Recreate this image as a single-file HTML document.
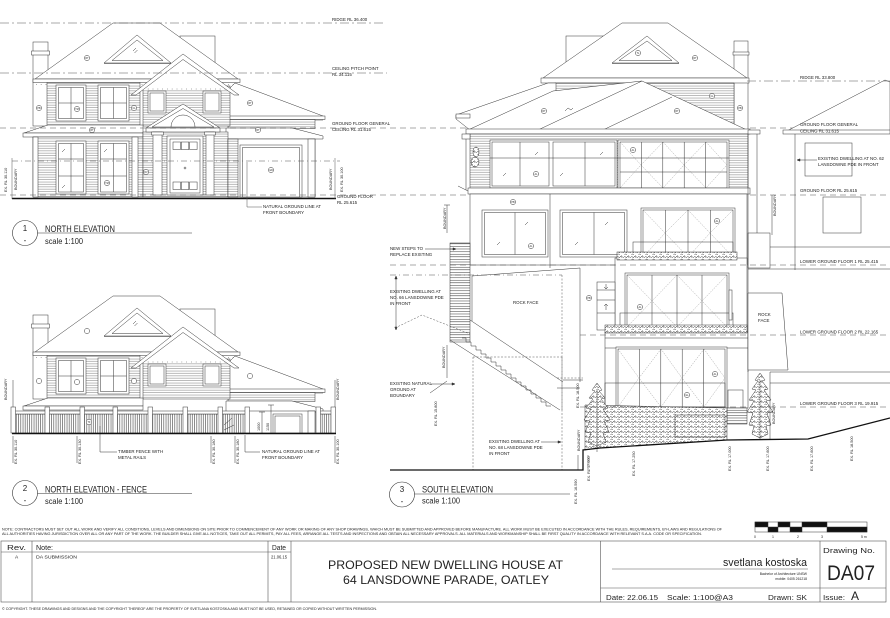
<!DOCTYPE html>
<html><head><meta charset="utf-8">
<style>
html,body{margin:0;padding:0;background:#fff;}
svg{display:block;}
text{font-family:"Liberation Sans",Arial,sans-serif;fill:#222;stroke:none;}
.t{font-size:4.4px;}
.s{font-size:3.8px;}
.g{font-size:2.4px;}
</style></head><body>
<svg width="890" height="618" viewBox="0 0 890 618" xmlns="http://www.w3.org/2000/svg">
<defs>
<pattern id="sid" width="6" height="2.4" patternUnits="userSpaceOnUse"><rect width="6" height="2.4" fill="#fff"/><line x1="0" y1="2" x2="6" y2="2" stroke="#666" stroke-width="0.45"/></pattern>
<pattern id="pk" width="2.2" height="6" patternUnits="userSpaceOnUse"><rect width="2.2" height="6" fill="#fff"/><line x1="1" y1="0" x2="1" y2="6" stroke="#333" stroke-width="0.55"/></pattern>
<pattern id="tr" width="6" height="2.6" patternUnits="userSpaceOnUse"><rect width="6" height="2.6" fill="#fff"/><line x1="0" y1="2" x2="6" y2="2" stroke="#333" stroke-width="0.5"/></pattern>
<pattern id="sh" width="7" height="5" patternUnits="userSpaceOnUse"><rect width="7" height="5" fill="#fff"/><path d="M0.3,3 q1.5,-3 3,0 q1.5,-3 3,0 M1.5,5 q1,-2 2.5,0 M4.5,1.5 q1,-1.5 2,0" fill="none" stroke="#333" stroke-width="0.5"/></pattern>
</defs>

<!-- ================= ELEVATION 1 ================= -->
<g id="hu" stroke="#333" stroke-width="0.5" fill="#fff">
 <rect x="180" y="36" width="35" height="40"/>
 <rect x="33" y="42" width="15" height="84"/>
 <rect x="31.5" y="51" width="18" height="4"/>
 <polygon points="35,79 113,23 160,23 238,79"/>
 <rect x="33" y="79" width="207" height="3.5"/>
 <line x1="36" y1="84.5" x2="238" y2="84.5" stroke-dasharray="0.8,4"/>
 <polygon points="104,63 137,35 171,63"/>
 <polygon points="112,60.5 137,40 163,60.5"/>
 <line x1="104" y1="63.5" x2="171" y2="63.5"/>
 <path d="M133,51 l3,-3 M134.5,53 l3,-3" fill="none"/>
 <polygon points="228,90 235,83 323,116 323,120 228,120"/>
 <rect x="226" y="116" width="99" height="3.5"/>
 <rect x="228" y="119.5" width="87" height="9" fill="url(#sid)"/>
 <rect x="47" y="82.5" width="93" height="43" fill="url(#sid)"/>
 <rect x="56" y="85" width="30" height="36"/>
 <rect x="58.5" y="87.5" width="25" height="31"/>
 <path d="M71,87.5V118.5M58.5,103H83.5" fill="none"/>
 <rect x="98" y="85" width="31" height="36"/>
 <rect x="100.5" y="87.5" width="26" height="31"/>
 <path d="M113.5,87.5V118.5M100.5,103H126.5" fill="none"/>
 <rect x="143" y="86" width="87" height="40" fill="url(#sid)"/>
 <polygon points="141,90 183,60 229,90" stroke="none"/>
 <line x1="143" y1="89" x2="229" y2="89" stroke-dasharray="0.8,4"/>
 <polygon points="131,95 183,54 239,95 234,95 183,59.5 136,95"/>
 <rect x="148" y="91" width="18" height="22"/>
 <rect x="150" y="93" width="14" height="18"/>
 <rect x="203" y="91" width="18" height="22"/>
 <rect x="205" y="93" width="14" height="18"/>
 <polygon points="24,133 48,125 143,125 143,133"/>
 <rect x="23" y="133" width="120" height="4"/>
 <polygon points="226,128 292,128 323,136 323,139 226,139"/>
 <circle cx="87" cy="58" r="2.6"/>
 <circle cx="250" cy="103" r="2.6"/>
 <circle cx="39" cy="108" r="2.6"/>
 <circle cx="77" cy="109" r="2.6"/>
 <circle cx="134" cy="108" r="2.6"/>
</g>
<g stroke="#333" stroke-width="0.5" fill="#fff">
 <circle cx="92" cy="130" r="2.6"/>
 <circle cx="258" cy="130" r="2.6"/>
 <rect x="33" y="137" width="110" height="60" fill="url(#sid)"/>
 <rect x="33" y="137" width="5" height="60"/>
 <rect x="132" y="137" width="6" height="60"/>
 <rect x="56" y="141" width="30" height="53"/>
 <rect x="58.5" y="143.5" width="25" height="48.5"/>
 <path d="M71,143.5V192M58.5,159H83.5M58.5,176H83.5M62,152l3,-3M62,188l3,-3" fill="none"/>
 <rect x="98" y="141" width="31" height="53"/>
 <rect x="100.5" y="143.5" width="26" height="48.5"/>
 <path d="M113.5,143.5V192M100.5,159H126.5M100.5,176H126.5M104,152l3,-3" fill="none"/>
 <rect x="143" y="132" width="85" height="65" fill="url(#sid)"/>
 <polygon points="146,128 183,104 220,128"/>
 <polygon points="152,127 183,108.5 214,127"/>
 <path d="M171,127 A12,12 0 0 1 195,127" fill="none"/>
 <rect x="146" y="128" width="74" height="4"/>
 <rect x="153" y="132" width="9" height="63"/>
 <rect x="151.5" y="132" width="12" height="3"/>
 <rect x="206" y="132" width="8" height="63"/>
 <rect x="204.5" y="132" width="11" height="3"/>
 <rect x="167" y="136" width="36" height="59"/>
 <rect x="170" y="139" width="30" height="54"/>
 <rect x="173" y="142" width="7.5" height="7.5"/><rect x="181.3" y="142" width="7.5" height="7.5"/><rect x="189.6" y="142" width="7.5" height="7.5"/>
 <rect x="173" y="182" width="7.5" height="7.5"/><rect x="181.3" y="182" width="7.5" height="7.5"/><rect x="189.6" y="182" width="7.5" height="7.5"/>
 <circle cx="185" cy="168" r="1"/>
 <circle cx="146" cy="172" r="2.6"/>
 <rect x="228" y="139" width="87" height="58"/>
 <rect x="228" y="139" width="10" height="58" fill="url(#sid)"/>
 <rect x="240" y="145" width="62" height="52"/>
 <rect x="242.5" y="147.5" width="57" height="49.5"/>
 <rect x="308" y="139" width="7" height="58"/>
 <circle cx="271" cy="170" r="2.6"/>
 <circle cx="107" cy="183" r="2.6"/>
</g>
<line x1="12" y1="198.5" x2="336" y2="198.5" stroke="#111" stroke-width="1.4"/>
<g class="g" text-anchor="middle">
 <text x="87" y="59">RT</text><text x="250" y="104">RT</text><text x="92" y="131">RT</text><text x="258" y="131">RT</text>
 <text x="39" y="109">PB</text><text x="77" y="110">TM</text><text x="134" y="109">CL</text><text x="146" y="173">DV</text><text x="271" y="171">GD</text><text x="107" y="184">TM</text>
</g>
<!-- elev 1 level lines -->
<g stroke="#555" stroke-width="0.5" fill="none">
 <line x1="0" y1="23" x2="385" y2="23" stroke-dasharray="9,3,2,3"/>
 <line x1="0" y1="73" x2="387" y2="73" stroke-dasharray="9,3,2,3"/>
 <line x1="0" y1="128" x2="890" y2="128" stroke-dasharray="6,4"/>
 <line x1="12" y1="161" x2="340" y2="161" stroke-dasharray="6,3,1,3"/>
 <line x1="0" y1="195" x2="890" y2="195" stroke-dasharray="6,4"/>
 <line x1="12" y1="158" x2="12" y2="199"/>
 <line x1="335" y1="158" x2="335" y2="199"/>
 <path d="M247,162V207H262"/>
</g>
<g class="t">
 <text x="332" y="21">RIDGE  RL 36.400</text>
 <text x="332" y="70">CEILING PITCH POINT</text>
 <text x="332" y="76">RL 34.115</text>
 <text x="332" y="125">GROUND FLOOR GENERAL</text>
 <text x="332" y="131">CEILING  RL 31.615</text>
 <text x="337" y="198">GROUND FLOOR</text>
 <text x="337" y="204">RL 25.615</text>
 <text x="263" y="208">NATURAL GROUND LINE AT</text>
 <text x="263" y="214">FRONT BOUNDARY</text>
 <text class="s" transform="translate(7,192) rotate(-90)">EX. RL 30.110</text>
 <text class="s" transform="translate(17,190) rotate(-90)">BOUNDARY</text>
 <text class="s" transform="translate(332,190) rotate(-90)">BOUNDARY</text>
 <text class="s" transform="translate(343,192) rotate(-90)">EX. RL 30.100</text>
</g>
<circle cx="25" cy="233" r="12.5" fill="none" stroke="#333" stroke-width="0.6"/>
<line x1="37.5" y1="233" x2="192" y2="233" stroke="#333" stroke-width="0.6"/>
<text x="25" y="231" font-size="8" text-anchor="middle">1</text>
<text x="25" y="243" font-size="8" text-anchor="middle">-</text>
<text x="45" y="232" font-size="9" textLength="70" lengthAdjust="spacingAndGlyphs">NORTH ELEVATION</text>
<text x="45" y="244" font-size="8" textLength="38" lengthAdjust="spacingAndGlyphs">scale 1:100</text>

<!-- ================= ELEVATION 2 ================= -->
<use href="#hu" transform="translate(0,273)"/>
<g stroke="#333" stroke-width="0.5" fill="#fff">
 <rect x="247" y="411" width="68" height="22"/>
 <rect x="273" y="414" width="29" height="19"/>
 <rect x="275" y="416" width="25" height="17"/>
 <rect x="308" y="411" width="7" height="22"/>
 <rect x="13" y="414" width="234" height="19" fill="url(#pk)"/>
 <rect x="13" y="411" width="234" height="3"/>
 <rect x="318" y="414" width="15" height="19" fill="url(#pk)"/>
 <rect x="318" y="411" width="15" height="3"/>
 <rect x="11" y="407" width="4.5" height="26"/>
 <rect x="45" y="407" width="4.5" height="26"/>
 <rect x="80" y="407" width="4.5" height="26"/>
 <rect x="113" y="407" width="4.5" height="26"/>
 <rect x="148" y="407" width="4.5" height="26"/>
 <rect x="183" y="407" width="4.5" height="26"/>
 <rect x="218" y="407" width="4.5" height="26"/>
 <rect x="245" y="407" width="4.5" height="26"/>
 <rect x="316" y="407" width="4.5" height="26"/>
 <rect x="331" y="407" width="4.5" height="26"/>
 <path d="M224,425 l8,-7 M224,430 l10,-5" fill="none"/>
 <circle cx="89" cy="422" r="2.8"/>
 <path d="M262,412V433M259,412h6M271,405V433M268,405h6M100,426V452H117M245,435V452H260" fill="none"/>
 <path d="M13,380V407M335,380V407M13,436V463M77,436V463M211,436V463M235,436V463M335,436V463" fill="none"/>
</g>
<line x1="12" y1="433.5" x2="336" y2="433.5" stroke="#111" stroke-width="1.4"/>
<g class="t">
 <text x="89" y="423" class="g" text-anchor="middle">TF</text>
 <text x="118" y="453">TIMBER FENCE WITH</text>
 <text x="118" y="459">METAL RAILS</text>
 <text x="262" y="453">NATURAL GROUND LINE AT</text>
 <text x="262" y="459">FRONT BOUNDARY</text>
 <text class="s" transform="translate(260,431) rotate(-90)">1000</text>
 <text class="s" transform="translate(269,431) rotate(-90)">1150</text>
 <text class="s" transform="translate(7,400) rotate(-90)">BOUNDARY</text>
 <text class="s" transform="translate(339,400) rotate(-90)">BOUNDARY</text>
 <text class="s" transform="translate(17,464) rotate(-90)">EX. RL 30.110</text>
 <text class="s" transform="translate(81,464) rotate(-90)">EX. RL 30.130</text>
 <text class="s" transform="translate(215,464) rotate(-90)">EX. RL 30.180</text>
 <text class="s" transform="translate(239,464) rotate(-90)">EX. RL 30.180</text>
 <text class="s" transform="translate(339,464) rotate(-90)">EX. RL 30.100</text>
</g>
<circle cx="25" cy="493" r="12.5" fill="none" stroke="#333" stroke-width="0.6"/>
<line x1="37.5" y1="493.5" x2="192" y2="493.5" stroke="#333" stroke-width="0.6"/>
<text x="25" y="491" font-size="8" text-anchor="middle">2</text>
<text x="25" y="503" font-size="8" text-anchor="middle">-</text>
<text x="45" y="492.5" font-size="9" textLength="102" lengthAdjust="spacingAndGlyphs">NORTH ELEVATION - FENCE</text>
<text x="45" y="504" font-size="8" textLength="38" lengthAdjust="spacingAndGlyphs">scale 1:100</text>

<!-- ================= SOUTH ELEVATION ================= -->
<g stroke="#333" stroke-width="0.5" fill="#fff">
 <rect x="566" y="36" width="37" height="45"/>
 <rect x="734" y="41" width="14" height="90"/>
 <rect x="733" y="52" width="16" height="3"/>
 <polygon points="543,78 622,23 668,23 747,78"/>
 <rect x="541" y="78" width="208" height="5"/>
 <polygon points="612,63 647,36 679,63"/>
 <polygon points="619,60.5 647,41 672,60.5"/>
 <line x1="612" y1="63.5" x2="679" y2="63.5"/>
 <circle cx="638" cy="53" r="2.6"/>
 <circle cx="695" cy="58" r="2.6"/>
 <rect x="555" y="83" width="179" height="47" fill="url(#sid)"/>
 <polygon points="456,115 548,83 556,83 556,112 470,130 456,119"/>
 <rect x="456" y="114" width="14" height="4"/>
 <polygon points="468,130 553,91 642,81 747,130"/>
 <line x1="538" y1="130" x2="642" y2="81"/>
 <line x1="603" y1="130" x2="672" y2="97"/>
 <circle cx="544" cy="111" r="2.6"/>
 <circle cx="677" cy="111" r="2.6"/>
 <circle cx="712" cy="96" r="2.6"/>
 <circle cx="740" cy="108" r="2.6"/>
 <path d="M565,111 l3,-3 l3,2 l2,-2" fill="none"/>
 <rect x="466" y="129" width="284" height="5"/>
 <rect x="748" y="130" width="12" height="4"/>
 <rect x="470" y="134" width="278" height="56" fill="url(#sid)"/>
 <rect x="490" y="140" width="127" height="48"/>
 <rect x="492" y="142" width="57" height="44"/>
 <rect x="553" y="142" width="62" height="44"/>
 <line x1="520" y1="142" x2="520" y2="186"/>
 <line x1="585" y1="142" x2="585" y2="186"/>
 <rect x="618" y="140" width="111" height="50"/>
 <rect x="620" y="142" width="107" height="46"/>
 <path d="M641.4,142V188M662.8,142V188M684.2,142V188M705.6,142V188" fill="none"/>
 <line x1="490" y1="158" x2="729" y2="158"/>
 <line x1="620" y1="172" x2="727" y2="172"/>
 <path d="M620,142L641,165L620,188M663,142L641,165L663,188M663,142L684,165L663,188M706,142L684,165L706,188M706,142L727,165L706,188" fill="none" stroke="#777" stroke-width="0.35" stroke-dasharray="1.5,1"/>
 <circle cx="536" cy="174" r="2.6"/>
 <circle cx="633" cy="150" r="2.6"/>
 <path d="M503,176l3,-3M535,155l3,-3M560,176l3,-3M600,155l3,-3" fill="none"/>
 <rect x="462" y="134" width="8" height="5"/>
 <path d="M466,139V190M458,186l12,6" fill="none"/>
 <ellipse cx="476" cy="152" rx="3" ry="5" fill="url(#sh)"/>
 <ellipse cx="475" cy="162" rx="4" ry="5" fill="url(#sh)"/>
 <rect x="468" y="188" width="282" height="6"/>
 <rect x="470" y="194" width="277" height="71"/>
 <line x1="550" y1="194" x2="550" y2="268"/>
 <circle cx="513" cy="202" r="2.6"/>
 <rect x="482" y="210" width="66" height="47"/>
 <rect x="484.5" y="212.5" width="61" height="42"/>
 <line x1="515" y1="212.5" x2="515" y2="254.5"/>
 <rect x="560" y="210" width="67" height="47"/>
 <rect x="562.5" y="212.5" width="62" height="42"/>
 <line x1="594" y1="212.5" x2="594" y2="254.5"/>
 <path d="M497,245l3,-3M525,225l3,-3M575,245l3,-3M605,225l3,-3" fill="none"/>
 <circle cx="531" cy="246" r="2.6"/>
 <rect x="641" y="208" width="94" height="50"/>
 <rect x="643" y="210" width="90" height="47"/>
 <path d="M665.5,210V257M688,210V257M710.5,210V257" fill="none"/>
 <path d="M643,210L665,233L643,257M688,210L665,233L688,257M688,210L710,233L688,257M733,210L710,233L733,257" fill="none" stroke="#777" stroke-width="0.35" stroke-dasharray="1.5,1"/>
 <circle cx="717" cy="221" r="2.6"/>
 <rect x="633" y="242" width="100" height="15" fill="none"/>
 <rect x="615" y="258" width="132" height="92"/>
 <rect x="617" y="252" width="120" height="8" fill="url(#sh)"/>
 <rect x="625" y="273" width="104" height="56"/>
 <rect x="627" y="275" width="100" height="52"/>
 <path d="M652,275V327M677,275V327M702,275V327" fill="none"/>
 <path d="M627,275L652,301L627,327M677,275L652,301L677,327M677,275L702,301L677,327M727,275L702,301L727,327" fill="none" stroke="#777" stroke-width="0.35" stroke-dasharray="1.5,1"/>
 <circle cx="640" cy="307" r="2.6"/>
 <rect x="620" y="313" width="113" height="14" fill="none"/>
 <rect x="729" y="290" width="3" height="30"/>
 <rect x="597" y="282" width="18" height="48"/>
 <path d="M597,290H615M597,300H615M597,313H615M606,284v5M604,287l2,2l2,-2M606,310v-6M604,306l2,-2l2,2" fill="none"/>
 <circle cx="589" cy="298" r="2.6"/>
 <rect x="605" y="332" width="143" height="76"/>
 <rect x="605" y="325" width="142" height="8" fill="url(#sh)"/>
 <line x1="605" y1="338" x2="748" y2="338"/>
 <line x1="605" y1="348" x2="748" y2="348"/>
 <rect x="616" y="347" width="111" height="61"/>
 <rect x="618" y="349" width="107" height="58"/>
 <path d="M639.4,349V407M660.8,349V407M682.2,349V407M703.6,349V407" fill="none"/>
 <path d="M618,349L639,378L618,407M661,349L639,378L661,407M661,349L682,378L661,407M704,349L682,378L704,407M704,349L725,378L704,407" fill="none" stroke="#777" stroke-width="0.35" stroke-dasharray="1.5,1"/>
 <circle cx="715" cy="374" r="2.6"/>
 <circle cx="687" cy="395" r="2.6"/>
 <rect x="605" y="383" width="120" height="24" fill="none"/>
 <rect x="728" y="390" width="15" height="18"/>
 <rect x="727" y="408" width="20" height="16" fill="url(#tr)"/>
 <polygon points="585,405 727,408 727,440 600,448 585,450" fill="url(#sh)"/>
 <rect x="675" y="415" width="50" height="22" fill="url(#sh)"/>
 <polygon points="597,383 602,390 599,391 605,398 601,399 608,408 603,409 610,420 604,421 609,432 603,433 606,442 597,446 588,442 591,433 585,432 590,421 584,420 591,409 586,408 593,399 589,398 595,391 592,390" fill="url(#sh)"/>
 <line x1="597" y1="390" x2="597" y2="452"/>
 <polygon points="760,373 765,380 762,381 768,389 764,390 771,400 766,401 773,412 767,413 771,425 766,426 768,434 760,438 752,434 754,426 749,425 753,413 747,412 754,401 749,400 756,390 752,389 758,381 755,380" fill="url(#sh)"/>
 <line x1="760" y1="380" x2="760" y2="440"/>
 <!-- rock face & right -->
 <line x1="748" y1="134" x2="748" y2="372"/>
 <line x1="757" y1="134" x2="757" y2="233"/>
 <rect x="748" y="233" width="22" height="35" fill="none"/>
 <polygon points="748,293 782,293 788,370 748,370"/>
 <line x1="748" y1="269" x2="890" y2="269"/>
 <line x1="770" y1="372" x2="890" y2="372"/>
 <line x1="770" y1="383" x2="890" y2="383"/>
 <line x1="770" y1="247" x2="890" y2="247"/>
 <line x1="770" y1="372" x2="770" y2="440"/>
 <line x1="772" y1="195" x2="772" y2="235"/>
 <!-- existing dwelling 62 -->
 <polygon points="785,132 885,80 890,82 890,132"/>
 <rect x="783" y="130" width="107" height="4"/>
 <line x1="795" y1="134" x2="795" y2="270"/>
 <rect x="805" y="143" width="47" height="33" fill="none"/>
 <rect x="823" y="197" width="38" height="36" fill="none"/>
 <path d="M797,160H817M797,160l3,-1.2v2.4z" fill="#333"/>
 <!-- left: stairs, rock face, dwellings -->
 <rect x="450" y="243" width="20" height="99" fill="url(#tr)"/>
 <line x1="472" y1="276" x2="580" y2="268"/>
 <line x1="580" y1="268" x2="580" y2="382"/>
 <line x1="472" y1="276" x2="472" y2="321"/>
 <line x1="470" y1="320" x2="563" y2="382"/>
 <line x1="450" y1="340" x2="560" y2="410"/>
 <polyline points="462,338 466,338 466,342 471,342 471,346 476,346 476,350 481,350 481,354 486,354 486,358 491,358 491,362 496,362 496,366 501,366 501,370 506,370 506,374 511,374 511,378 516,378 516,382 521,382 521,386 526,386 526,390 531,390 531,394 536,394 536,398 541,398 541,402 546,402 546,406 551,406" fill="none"/>
 <line x1="563" y1="380" x2="583" y2="380"/>
 <line x1="557" y1="388" x2="580" y2="388"/>
 <path d="M447,205V233M444,205h6M447,345V378M430,393L447,381M431,384H455M455,384l-3,-1.2v2.4z M425,249H456M456,249l-3,-1.2v2.4z M541,442H561M561,442l-3,-1.2v2.4z" fill="#333"/>
 <path d="M396,276V330M396,276l-1.2,3h2.4z M396,330l-1.2,-3h2.4z" fill="#333"/>
 <path d="M578,455V470M588,455V470" fill="none"/>
</g>
<g stroke="#555" stroke-width="0.5" fill="none">
 <line x1="747" y1="81" x2="890" y2="81" stroke-dasharray="9,3,2,3"/>
 <line x1="390" y1="265" x2="890" y2="265" stroke-dasharray="6,4"/>
 <line x1="390" y1="275" x2="562" y2="275" stroke-dasharray="6,3,1,3"/>
 <line x1="562" y1="275" x2="562" y2="410" stroke-dasharray="2,1.5"/>
 <line x1="580" y1="335" x2="890" y2="335" stroke-dasharray="6,4"/>
 <line x1="580" y1="407" x2="890" y2="407" stroke-dasharray="6,4"/>
 <path d="M473,357H562M473,357V470M562,357V470M557,378H583" stroke-dasharray="2,1.5"/>
 <polyline points="395,328 422,315 470,334" stroke-dasharray="2,1.5"/>
</g>
<polyline points="390,470 583,470 583,450 600,448 727,440 808,439 890,418" fill="none" stroke="#111" stroke-width="1.3"/>
<g class="g" text-anchor="middle">
 <text x="638" y="54">TL</text><text x="695" y="59">RT</text><text x="544" y="112">RT</text><text x="677" y="112">RT</text><text x="712" y="97">CL</text><text x="740" y="109">PB</text>
 <text x="536" y="175">AL</text><text x="633" y="151">AL</text><text x="513" y="203">PB</text><text x="531" y="247">AL</text><text x="717" y="222">AL</text>
 <text x="640" y="308">AL</text><text x="589" y="299">PB</text><text x="715" y="375">AL</text><text x="687" y="396">GL</text>
</g>
<g class="t">
 <text x="800" y="79">RIDGE  RL 33.800</text>
 <text x="800" y="126">GROUND FLOOR GENERAL</text>
 <text x="800" y="132.5">CEILING  RL 31.615</text>
 <text x="818" y="160">EXISTING DWELLING AT NO. 62</text>
 <text x="818" y="166">LANSDOWNE PDE IN FRONT</text>
 <text x="800" y="192">GROUND FLOOR  RL 25.615</text>
 <text x="800" y="263">LOWER GROUND FLOOR 1  RL 25.415</text>
 <text x="800" y="333.5">LOWER GROUND FLOOR 2  RL 22.165</text>
 <text x="800" y="405">LOWER GROUND FLOOR 3  RL 19.915</text>
 <text x="758" y="316">ROCK</text>
 <text x="758" y="322">FACE</text>
 <text x="513" y="304">ROCK FACE</text>
 <text x="390" y="250">NEW STEPS TO</text>
 <text x="390" y="256">REPLACE EXISTING</text>
 <text x="390" y="293">EXISTING DWELLING AT</text>
 <text x="390" y="299">NO. 66 LANSDOWNE PDE</text>
 <text x="390" y="305">IN FRONT</text>
 <text x="390" y="385">EXISTING NATURAL</text>
 <text x="390" y="391">GROUND AT</text>
 <text x="390" y="397">BOUNDARY</text>
 <text x="489" y="443">EXISTING DWELLING AT</text>
 <text x="489" y="449">NO. 68 LANSDOWNE PDE</text>
 <text x="489" y="455">IN FRONT</text>
 <text class="s" transform="translate(446,229) rotate(-90)">BOUNDARY</text>
 <text class="s" transform="translate(445,368) rotate(-90)">BOUNDARY</text>
 <text class="s" transform="translate(437,426) rotate(-90)">EX. RL 15.800</text>
 <text class="s" transform="translate(579,408) rotate(-90)">EX. RL 18.500</text>
 <text class="s" transform="translate(580,451) rotate(-90)">BOUNDARY</text>
 <text class="s" transform="translate(577,504) rotate(-90)">EX. RL 16.590</text>
 <text class="s" transform="translate(590,481) rotate(-90)">EX. RL 17.000</text>
 <text class="s" transform="translate(635,476) rotate(-90)">EX. RL 17.250</text>
 <text class="s" transform="translate(731,471) rotate(-90)">EX. RL 17.000</text>
 <text class="s" transform="translate(769,471) rotate(-90)">EX. RL 17.600</text>
 <text class="s" transform="translate(813,471) rotate(-90)">EX. RL 17.600</text>
 <text class="s" transform="translate(853,461) rotate(-90)">EX. RL 18.500</text>
 <text class="s" transform="translate(775,424) rotate(-90)">BOUNDARY</text>
 <text class="s" transform="translate(776,216) rotate(-90)">BOUNDARY</text>
</g>
<circle cx="402" cy="494.5" r="12.5" fill="none" stroke="#333" stroke-width="0.6"/>
<line x1="414.5" y1="494" x2="570" y2="494" stroke="#333" stroke-width="0.6"/>
<text x="402" y="492" font-size="8" text-anchor="middle">3</text>
<text x="402" y="504" font-size="8" text-anchor="middle">-</text>
<text x="422" y="492.5" font-size="9" textLength="71" lengthAdjust="spacingAndGlyphs">SOUTH ELEVATION</text>
<text x="422" y="503.5" font-size="8" textLength="38" lengthAdjust="spacingAndGlyphs">scale 1:100</text>

<!-- ================= TITLE BLOCK ================= -->
<text x="2" y="530.5" font-size="3.6" textLength="720" lengthAdjust="spacingAndGlyphs">NOTE: CONTRACTORS MUST SET OUT ALL WORK AND VERIFY ALL CONDITIONS, LEVELS AND DIMENSIONS ON SITE PRIOR TO COMMENCEMENT OF ANY WORK OR MAKING OF ANY SHOP DRAWINGS, WHICH MUST BE SUBMITTED AND APPROVED BEFORE MANUFACTURE. ALL WORK MUST BE EXECUTED IN ACCORDANCE WITH THE RULES, REQUIREMENTS, BY-LAWS AND REGULATIONS OF</text>
<text x="2" y="535" font-size="3.6" textLength="700" lengthAdjust="spacingAndGlyphs">ALL AUTHORITIES HAVING JURISDICTION OVER ALL OR ANY PART OF THE WORK. THE BUILDER SHALL GIVE ALL NOTICES, TAKE OUT ALL PERMITS, PAY ALL FEES, ARRANGE ALL TESTS AND INSPECTIONS AND OBTAIN ALL NECESSARY APPROVALS. ALL MATERIALS AND WORKMANSHIP SHALL BE FIRST QUALITY IN ACCORDANCE WITH RELEVANT S.A.A. CODE OR SPECIFICATION.</text>
<g stroke="#333" stroke-width="0.5">
 <rect x="755" y="522" width="112" height="10" fill="#fff"/>
 <rect x="755" y="522" width="13" height="5" fill="#111"/>
 <rect x="768" y="527" width="10" height="5" fill="#111"/>
 <rect x="778" y="522" width="12" height="5" fill="#111"/>
 <rect x="790" y="527" width="12" height="5" fill="#111"/>
 <rect x="802" y="522" width="25" height="5" fill="#111"/>
 <rect x="827" y="527" width="40" height="5" fill="#111"/>
</g>
<g font-size="3.5">
 <text x="754" y="538">0</text><text x="772" y="538">1</text><text x="797" y="538">2</text><text x="821" y="538">3</text><text x="861" y="538">5 m</text>
</g>
<g stroke="#555" stroke-width="0.6" fill="none">
 <rect x="1" y="541" width="885" height="61"/>
 <line x1="1" y1="552" x2="291" y2="552"/>
 <line x1="32" y1="541" x2="32" y2="602"/>
 <line x1="268" y1="541" x2="268" y2="602"/>
 <line x1="291" y1="541" x2="291" y2="602"/>
 <line x1="600.5" y1="541" x2="600.5" y2="602"/>
 <line x1="820" y1="541" x2="820" y2="602"/>
 <line x1="600.5" y1="588" x2="886" y2="588"/>
 <line x1="612" y1="569" x2="808" y2="569"/>
</g>
<text x="7" y="550" font-size="7" textLength="19" lengthAdjust="spacingAndGlyphs">Rev.</text>
<text x="36" y="550" font-size="7" textLength="17" lengthAdjust="spacingAndGlyphs">Note:</text>
<text x="272" y="550" font-size="7" textLength="14" lengthAdjust="spacingAndGlyphs">Date</text>
<text x="15" y="558.5" font-size="4.8">A</text>
<text x="36" y="558.5" font-size="4.5" textLength="41" lengthAdjust="spacingAndGlyphs">DA SUBMISSION</text>
<text x="271" y="558.5" font-size="4.5" textLength="16" lengthAdjust="spacingAndGlyphs">21.06.15</text>
<text x="328" y="569" font-size="11.5" textLength="235" lengthAdjust="spacingAndGlyphs">PROPOSED NEW DWELLING HOUSE AT</text>
<text x="343" y="584" font-size="11.5" textLength="206" lengthAdjust="spacingAndGlyphs">64 LANSDOWNE PARADE, OATLEY</text>
<text x="807" y="566" font-size="11" text-anchor="end" textLength="84" lengthAdjust="spacingAndGlyphs">svetlana kostoska</text>
<text x="807" y="575" font-size="3.4" text-anchor="end">Bachelor of Architecture UNSW</text>
<text x="807" y="580" font-size="3.4" text-anchor="end">mobile: 0405 261218</text>
<text x="823" y="553" font-size="7" textLength="52" lengthAdjust="spacingAndGlyphs">Drawing No.</text>
<text x="827" y="580" font-size="21" textLength="48" lengthAdjust="spacingAndGlyphs">DA07</text>
<text x="606" y="600" font-size="7.5" textLength="52" lengthAdjust="spacingAndGlyphs">Date: 22.06.15</text>
<text x="667" y="600" font-size="7.5" textLength="66" lengthAdjust="spacingAndGlyphs">Scale: 1:100@A3</text>
<text x="768" y="600" font-size="7.5" textLength="39" lengthAdjust="spacingAndGlyphs">Drawn: SK</text>
<text x="823" y="600" font-size="7.5" textLength="22" lengthAdjust="spacingAndGlyphs">Issue:</text>
<text x="851" y="600" font-size="12">A</text>
<text x="2" y="610" font-size="3.6" textLength="375" lengthAdjust="spacingAndGlyphs">© COPYRIGHT. THESE DRAWINGS AND DESIGNS AND THE COPYRIGHT THEREOF ARE THE PROPERTY OF SVETLANA KOSTOSKA AND MUST NOT BE USED, RETAINED OR COPIED WITHOUT WRITTEN PERMISSION.</text>
</svg>
</body></html>
